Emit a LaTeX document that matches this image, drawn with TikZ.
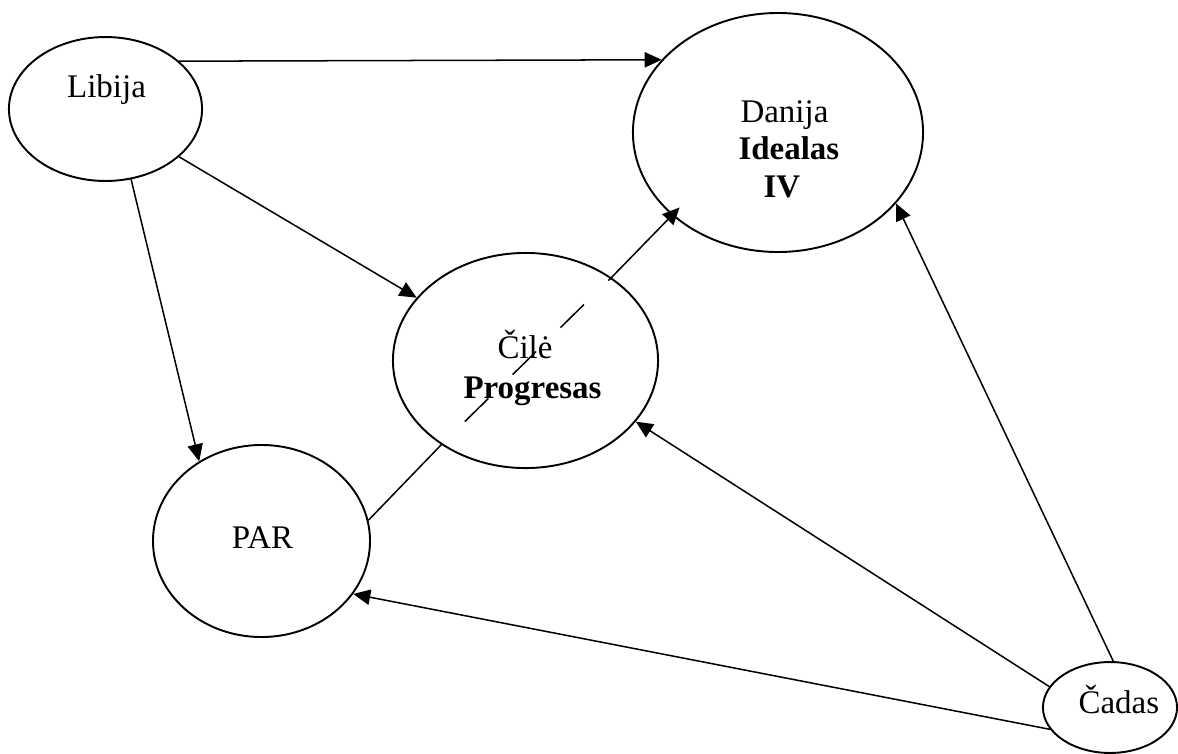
\documentclass[tikz,border=0pt]{standalone}
\usepackage{fontspec}
\setmainfont{Liberation Serif}
\usetikzlibrary{shapes.geometric,arrows.meta}
\tikzset{
  country/.style={draw, ellipse, line width=0.7pt, inner sep=0pt},
  conn/.style={line width=0.55pt},
  link/.style={conn, -{Triangle[length=6.2pt,width=5.6pt]}},
  txt/.style={inner sep=0pt, font=\fontsize{12}{14}\selectfont}
}
\begin{document}
\begin{tikzpicture}[x=0.364pt, y=-0.364pt]
  \useasboundingbox (0,0) rectangle (1178,754);
  % countries
  \node[country, minimum width=70.3pt, minimum height=52.4pt] (libija) at (105.5,109) {};
  \node[country, minimum width=105.6pt, minimum height=87pt] (danija) at (778,132.5) {};
  \node[country, minimum width=96.5pt, minimum height=78.3pt] (cile) at (525.5,360.5) {};
  \node[country, minimum width=79pt, minimum height=69.9pt] (par) at (261.5,541) {};
  \node[country, minimum width=48.8pt, minimum height=33.1pt] (cadas) at (1110,707.5) {};
  % labels
  \node[txt, anchor=base] (libijaT) at (106.5,97) {Libija};
  \node[txt, anchor=base west] (danijaT) at (740,122) {Danija};
  \node[txt, anchor=base west] (idealasT) at (738,159) {\textbf{Idealas}};
  \node[txt, anchor=base west] (ivT) at (763,197) {\textbf{IV}};
  \node[txt, anchor=base west] (cileT) at (497,358) {Čilė};
  \node[txt, anchor=base west] (progresasT) at (463,398) {\textbf{Progresas}};
  \node[txt, anchor=base] (parT) at (262.5,548) {PAR};
  \node[txt, anchor=base west] (cadasT) at (1078,713) {Čadas};
  % connections
  \draw[link] (libija.33.7) -- (danija.148.4);
  \draw[link] (libija.-33.7) -- (cile.150.8);
  \draw[link] (libija.-70.6) -- (par.128.3);
  \draw[conn] (par.11.6) -- (cile.225.3);
  \draw[conn, dash pattern=on 12pt off 12.4pt, dash phase=12.4pt] (cile.225.3) -- (cile.44.7);
  \draw[link, shorten >=-4pt] (cile.44.7) -- (danija.218);
  \draw[link] (cadas.86.3) -- (danija.-31.8);
  \draw[link] (cadas.161.4) -- (cile.-29);
  \draw[link] (cadas.200.8) -- (par.-30);
\end{tikzpicture}
\end{document}
